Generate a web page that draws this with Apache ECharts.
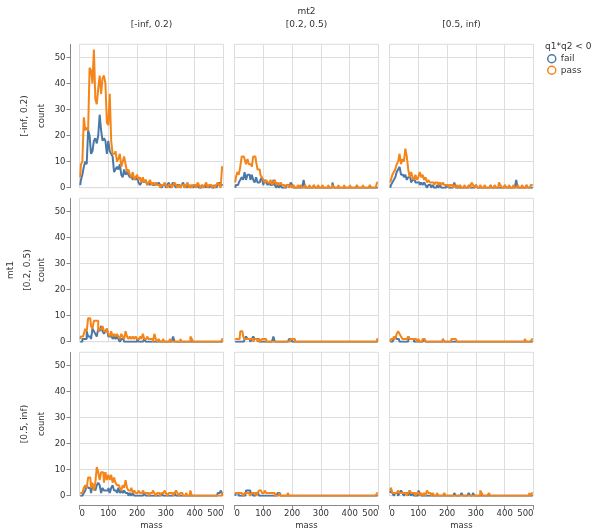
<!DOCTYPE html>
<html>
<head>
<meta charset="utf-8">
<script src="https://cdn.jsdelivr.net/npm/echarts@6/dist/echarts.min.js"></script>
<style>html,body{margin:0;padding:0;background:#fff}#chart{width:593px;height:529px}</style>
</head>
<body>
<div id="chart"></div>
<script>
// ---------- DATA ----------
const massBins = [
  2.5,7.5,12.5,17.5,22.5,27.5,32.5,37.5,42.5,47.5,52.5,57.5,62.5,67.5,72.5,77.5,82.5,87.5,92.5,97.5,
  102.5,107.5,112.5,117.5,122.5,127.5,132.5,137.5,142.5,147.5,152.5,157.5,162.5,167.5,172.5,177.5,182.5,187.5,192.5,197.5,
  202.5,207.5,212.5,217.5,222.5,227.5,232.5,237.5,242.5,247.5,252.5,257.5,262.5,267.5,272.5,277.5,282.5,287.5,292.5,297.5,
  302.5,307.5,312.5,317.5,322.5,327.5,332.5,337.5,342.5,347.5,352.5,357.5,362.5,367.5,372.5,377.5,382.5,387.5,392.5,397.5,
  402.5,407.5,412.5,417.5,422.5,427.5,432.5,437.5,442.5,447.5,452.5,457.5,462.5,467.5,472.5,477.5,482.5,487.5,492.5,497.5
];
const rowTitle = 'mt1';
const colTitle = 'mt2';
const rowLabels = ['[-inf, 0.2)', '[0.2, 0.5)', '[0.5, inf)'];
const colLabels = ['[-inf, 0.2)', '[0.2, 0.5)', '[0.5, inf)'];
const groupNames = ['fail', 'pass'];
const legendTitle = 'q1*q2 < 0';
const xTickValues = [0, 100, 200, 300, 400, 500];
const yTickValues = [0, 10, 20, 30, 40, 50];

const fail_r1c1 = [
  1,3,5,8,10,9,22,20,13,14,18,19,17,20,28,22,18,19,18,13,
  18,14,13,12,6,7,8,7,9,5,4,7,5,6,5,4,4,3,4,3,
  4,2,1,2,3,2,3,1,2,1,2,1,1,2,1,2,1,0,1,1,
  0,1,2,0,1,2,1,0,1,1,0,1,2,0,1,0,1,0,1,0,
  1,0,1,0,0,1,0,1,0,1,0,1,0,0,1,0,1,2,1,1
];
const pass_r1c1 = [
  4,9,10,27,22,23,22,46,45,40,53,34,32,38,43,36,42,43,40,25,
  24,36,18,13,13,14,10,11,13,8,10,12,9,6,7,5,4,6,3,4,
  5,3,4,2,4,2,3,1,2,3,1,2,1,2,1,1,0,1,1,2,
  1,0,1,1,0,1,2,1,0,1,0,1,1,0,1,2,0,1,0,1,
  1,0,2,1,0,1,0,1,2,0,1,1,0,1,0,1,2,1,0,8
];
const fail_r1c2 = [
  0,1,1,2,3,4,3,6,3,5,5,3,5,3,2,4,2,2,3,4,
  1,3,2,1,2,1,1,3,1,0,1,0,1,0,0,0,1,1,0,2,
  1,0,0,0,0,0,0,0,3,0,0,0,0,0,0,1,0,0,0,0,
  0,0,0,0,0,0,0,0,2,0,0,0,0,0,0,0,0,0,0,0,
  0,0,0,0,0,0,0,0,0,0,0,0,0,0,0,0,0,0,0,0
];
const pass_r1c2 = [
  2,4,6,5,8,12,12,11,9,11,9,9,8,12,12,10,7,7,5,4,
  3,2,3,2,2,3,1,2,3,1,2,1,2,1,1,0,1,1,0,1,
  0,1,0,0,1,0,1,0,0,1,0,0,1,0,0,1,0,0,1,0,
  0,1,0,0,0,1,0,0,1,0,0,0,1,0,0,0,1,0,0,0,
  1,0,0,0,0,1,0,0,0,1,0,0,0,0,1,0,0,0,0,2
];
const fail_r1c3 = [
  0,1,2,3,4,6,7,8,5,5,4,5,3,4,4,2,3,3,2,2,
  2,1,2,1,2,1,0,1,1,0,1,0,0,1,0,1,0,0,0,0,
  1,0,0,0,0,2,0,0,0,0,0,0,0,0,0,1,0,0,0,0,
  1,0,0,0,0,0,0,0,0,0,1,0,0,0,0,0,0,0,0,0,
  1,0,0,0,0,0,0,0,3,0,0,0,0,0,0,1,0,0,0,0
];
const pass_r1c3 = [
  2,3,5,6,7,9,10,13,9,11,10,15,12,7,4,6,4,3,5,3,
  4,6,4,5,3,4,2,3,2,2,2,1,2,2,1,2,1,2,1,1,
  1,0,1,1,0,1,0,1,0,1,0,0,1,0,0,1,0,2,1,0,
  1,0,0,1,0,0,1,0,0,0,1,0,0,1,0,0,2,1,0,0,
  1,0,0,1,0,0,1,0,0,1,0,0,1,0,0,1,0,0,1,1
];
const fail_r2c1 = [
  0,0,1,1,1,4,2,2,1,5,4,3,2,5,4,6,4,3,4,5,
  2,2,3,1,2,1,2,1,0,1,1,0,0,0,0,0,0,0,0,0,
  1,0,0,0,0,1,0,0,0,0,0,0,0,0,0,0,0,0,0,0,
  0,0,0,0,0,2,0,0,0,0,0,0,0,0,0,0,0,0,0,0,
  0,0,0,0,0,0,0,0,0,0,0,0,0,0,0,0,0,0,0,0
];
const pass_r2c1 = [
  1,2,2,3,5,4,9,9,6,5,8,8,8,4,5,5,6,4,4,5,
  3,2,4,2,3,2,3,2,1,3,2,1,4,2,1,2,1,2,1,2,
  1,1,2,1,3,1,1,2,1,1,1,0,3,1,0,1,0,0,1,0,
  0,0,0,1,0,0,0,0,0,0,1,0,0,0,0,0,0,2,1,0,
  0,0,0,0,0,0,0,0,0,0,0,0,0,0,0,0,0,0,0,1
];
const fail_r2c2 = [
  0,0,0,0,0,0,0,1,2,1,1,0,1,2,1,1,1,0,0,0,
  0,0,0,0,0,0,0,2,0,0,0,0,0,0,0,0,0,0,1,1,
  0,0,0,0,0,0,0,0,0,0,0,0,0,0,0,0,0,0,0,0,
  0,0,0,0,0,0,0,0,0,0,0,0,0,0,0,0,0,0,0,0,
  0,0,0,0,0,0,0,0,0,0,0,0,0,0,0,0,0,0,0,0
];
const pass_r2c2 = [
  1,1,1,1,4,4,2,1,1,1,1,1,1,0,1,1,0,1,0,1,
  1,1,0,0,0,0,0,0,0,0,0,0,0,0,0,0,0,0,0,1,
  1,1,0,0,0,0,0,0,0,0,0,0,0,0,0,0,0,0,0,0,
  0,0,0,0,0,0,0,0,0,0,0,0,0,0,0,0,0,0,0,0,
  0,0,0,0,0,0,0,0,0,0,0,0,0,0,0,0,0,0,0,1
];
const fail_r2c3 = [
  0,0,0,1,2,1,1,0,0,0,0,0,0,2,1,1,1,0,0,0,
  0,0,0,0,1,0,0,0,0,0,0,0,0,0,0,0,0,1,0,0,
  0,0,0,0,0,0,0,0,0,0,0,0,0,0,0,0,0,0,0,0,
  0,0,0,0,0,0,0,0,0,0,0,0,0,0,0,0,0,0,0,0,
  0,0,0,0,0,0,0,0,0,0,0,0,0,0,0,0,0,0,0,0
];
const pass_r2c3 = [
  0,1,1,2,1,3,4,3,2,1,1,1,1,2,1,1,1,1,1,0,
  1,0,0,1,1,0,0,0,0,0,0,0,0,0,0,0,0,1,0,0,
  0,0,0,1,1,1,1,0,0,0,0,0,0,0,0,0,0,0,0,0,
  0,0,0,0,0,0,0,0,0,0,0,0,0,0,0,0,0,0,0,0,
  0,0,0,0,0,0,0,0,0,0,0,0,0,0,1,0,0,0,0,1
];
const fail_r3c1 = [
  0,0,0,1,2,4,3,3,1,4,3,2,4,5,4,1,3,2,2,2,
  3,1,3,4,2,2,1,3,1,2,1,2,1,1,0,1,0,1,0,0,
  0,0,0,0,0,1,0,0,0,0,0,0,0,0,0,0,0,1,0,0,
  0,0,0,0,0,0,1,0,0,0,0,0,0,0,0,0,0,0,0,0,
  0,0,0,0,0,0,0,0,0,0,0,0,0,0,0,0,1,1,2,1
];
const pass_r3c1 = [
  1,1,1,3,4,3,7,7,3,5,2,5,11,9,6,9,9,5,9,6,
  8,6,8,5,7,5,4,4,3,2,4,3,6,3,2,2,3,1,2,1,
  1,2,1,1,2,1,1,1,0,1,1,2,1,0,1,1,0,1,1,2,
  1,0,1,1,1,0,1,2,1,0,1,1,0,0,1,0,0,2,0,0,
  0,0,0,0,0,0,0,0,0,0,0,0,0,0,0,0,0,0,0,1
];
const fail_r3c2 = [
  0,1,1,0,0,0,0,0,2,2,2,1,1,0,0,1,1,0,0,0,
  0,0,0,0,0,0,0,0,0,0,1,1,0,0,0,0,0,0,0,0,
  0,0,0,0,0,0,0,0,0,0,0,0,0,0,0,0,0,0,0,0,
  0,0,0,0,0,0,0,0,0,0,0,0,0,0,0,0,0,0,0,0,
  0,0,0,0,0,0,0,0,0,0,0,0,0,0,0,0,0,0,0,0
];
const pass_r3c2 = [
  1,1,1,1,1,1,0,1,1,1,1,0,1,1,1,0,1,2,2,1,
  1,2,1,1,1,1,1,1,0,0,0,1,0,0,0,0,0,1,0,0,
  0,0,0,0,0,0,0,0,0,0,0,0,0,0,0,0,0,0,0,0,
  0,0,0,0,0,0,0,0,0,0,0,0,0,0,0,0,0,0,0,0,
  0,0,0,0,0,0,0,0,0,0,0,0,0,0,0,0,0,0,0,1
];
const fail_r3c3 = [
  1,2,1,0,1,1,0,1,2,1,0,1,1,0,2,0,1,0,0,0,
  2,1,0,0,0,0,0,0,0,0,0,0,0,0,0,0,0,0,0,0,
  0,0,0,0,0,1,0,0,0,0,1,0,0,0,0,1,0,0,1,0,
  0,0,0,0,0,0,0,0,0,0,0,0,0,0,0,0,0,0,0,0,
  0,0,0,0,0,0,0,0,0,0,0,0,0,0,0,0,0,0,0,0
];
const pass_r3c3 = [
  2,3,1,1,1,1,2,1,1,1,1,1,0,1,2,1,1,1,0,1,
  1,0,1,0,1,0,2,1,1,0,1,0,0,1,0,0,0,0,1,0,
  0,0,0,0,0,0,0,0,0,0,0,0,0,0,0,0,0,0,0,0,
  0,0,0,2,1,0,0,0,0,1,0,0,0,0,0,0,0,0,0,0,
  0,0,0,0,0,0,0,0,0,0,0,0,0,0,0,0,0,1,0,1
];

const failCounts = [[fail_r1c1, fail_r1c2, fail_r1c3], [fail_r2c1, fail_r2c2, fail_r2c3], [fail_r3c1, fail_r3c2, fail_r3c3]];
const passCounts = [[pass_r1c1, pass_r1c2, pass_r1c3], [pass_r2c1, pass_r2c2, pass_r2c3], [pass_r3c1, pass_r3c2, pass_r3c3]];

// ---------- LAYOUT / STYLE ----------
const FONT = 'DejaVu Sans';
const TXT = '#333';
const colors = { fail: '#4c78a8', pass: '#f58518' };
const colLeft = [79.5, 234.5, 389.5];
const rowTop = [44.3, 198.3, 352.3];
const cellW = 144, cellH = 143.4;

const grids = [], xAxes = [], yAxes = [], series = [];
for (let r = 0; r < 3; r++) {
  for (let c = 0; c < 3; c++) {
    const idx = r * 3 + c;
    const bottom = r === 2, left = c === 0;
    grids.push({ left: colLeft[c], top: rowTop[r], width: cellW, height: cellH, show: true,
      borderColor: '#ddd', borderWidth: 1, backgroundColor: 'transparent', containLabel: false, outerBoundsMode: 'none' });
    xAxes.push({
      type: 'value', gridIndex: idx, min: 0, max: 500, interval: 100,
      offset: bottom ? 10 : 0,
      axisLine: { show: bottom, onZero: false, lineStyle: { color: '#888', width: 1 } },
      axisTick: { show: bottom, length: 4, lineStyle: { color: '#888' }, customValues: xTickValues },
      axisLabel: { show: bottom, fontSize: 8.5, fontFamily: FONT, color: TXT, margin: 4,
        alignMinLabel: 'left', alignMaxLabel: 'right', customValues: xTickValues },
      splitLine: { show: true, lineStyle: { color: '#ddd', width: 1 } },
      name: bottom ? 'mass' : '', nameLocation: 'middle', nameGap: 16,
      nameTextStyle: { fontSize: 8.5, fontFamily: FONT, color: TXT }
    });
    yAxes.push({
      type: 'value', gridIndex: idx, min: 0, max: 55, interval: 10,
      offset: left ? 9 : 0,
      axisLine: { show: left, onZero: false, lineStyle: { color: '#888', width: 1 } },
      axisTick: { show: left, length: 4, lineStyle: { color: '#888' }, customValues: yTickValues },
      axisLabel: { show: left, fontSize: 8.5, fontFamily: FONT, color: TXT, margin: 5,
        customValues: yTickValues },
      splitLine: { show: true, lineStyle: { color: '#ddd', width: 1 } },
      name: left ? 'count' : '', nameLocation: 'middle', nameGap: 24, nameRotate: 90,
      nameTextStyle: { fontSize: 8.5, fontFamily: FONT, color: TXT }
    });
    [['fail', failCounts[r][c]], ['pass', passCounts[r][c]]].forEach(([name, counts], k) => {
      series.push({
        type: 'line', name: name, xAxisIndex: idx, yAxisIndex: idx,
        data: counts.map((v, i) => [massBins[i], v]),
        step: 'middle', symbol: 'none', showSymbol: false, silent: true,
        lineStyle: { color: colors[name], width: 2 },
        itemStyle: { color: colors[name] },
        z: 2 + k, animation: false, clip: true
      });
    });
  }
}

const graphics = [];
const textStyle = (t, size) => ({ text: t, fontSize: size, fontFamily: FONT, fill: TXT, align: 'center', verticalAlign: 'middle' });
graphics.push({ type: 'text', x: 306.5, y: 11.5, style: textStyle(colTitle, 9) });
colLabels.forEach((lab, c) => graphics.push({ type: 'text', x: colLeft[c] + cellW / 2, y: 24.5, style: textStyle(lab, 9) }));
graphics.push({ type: 'text', x: 10.3, y: rowTop[1] + cellH / 2, rotation: Math.PI / 2, style: textStyle(rowTitle, 9) });
const rowLabelX = [24.5, 27.5, 24.5];
rowLabels.forEach((lab, r) => graphics.push({ type: 'text', x: rowLabelX[r], y: rowTop[r] + cellH / 2, rotation: Math.PI / 2, style: textStyle(lab, 9) }));
graphics.push({ type: 'text', x: 545, y: 46.5, style: Object.assign(textStyle(legendTitle, 9), { align: 'left' }) });

const chart = echarts.init(document.getElementById('chart'), null, { renderer: 'canvas' });
chart.setOption({
  animation: false,
  backgroundColor: '#fff',
  grid: grids,
  xAxis: xAxes,
  yAxis: yAxes,
  series: series,
  legend: {
    orient: 'vertical', left: 547, top: 54, padding: 0, itemWidth: 8, itemHeight: 8, itemGap: 2,
    selectedMode: false,
    textStyle: { fontSize: 9, fontFamily: FONT, color: TXT },
    data: groupNames.map(n => ({ name: n, icon: 'circle',
      itemStyle: { color: 'rgba(0,0,0,0)', borderColor: colors[n], borderWidth: 1.5 } }))
  },
  graphic: graphics
});
</script>
</body>
</html>
